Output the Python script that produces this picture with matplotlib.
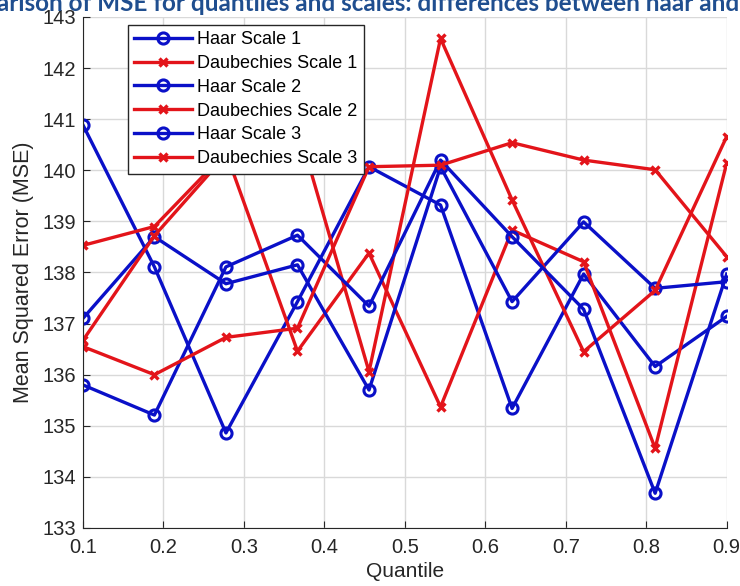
import numpy as np
import matplotlib
matplotlib.use('Agg')
import matplotlib.pyplot as plt

quantiles = np.linspace(0.1, 0.9, 10)

haar_1 = [140.89, 138.11, 134.86, 137.43, 140.07, 139.32, 135.34, 137.97, 136.16, 137.14]
daub_1 = [138.53, 138.90, 140.35, 136.46, 138.38, 135.37, 138.83, 138.21, 134.56, 140.14]
haar_2 = [137.10, 138.70, 137.78, 138.15, 135.70, 140.07, 137.43, 138.99, 137.69, 137.82]
daub_2 = [136.67, 138.72, 140.30, 140.88, 136.06, 142.58, 139.42, 136.45, 137.65, 140.66]
haar_3 = [135.80, 135.21, 138.11, 138.73, 137.34, 140.20, 138.70, 137.28, 133.68, 137.97]
daub_3 = [136.55, 136.00, 136.73, 136.91, 140.07, 140.10, 140.54, 140.20, 140.01, 138.31]

series = [
    ('Haar Scale 1', haar_1), ('Daubechies Scale 1', daub_1),
    ('Haar Scale 2', haar_2), ('Daubechies Scale 2', daub_2),
    ('Haar Scale 3', haar_3), ('Daubechies Scale 3', daub_3),
]

blue = '#0A10C8'
red = '#E3141A'

plt.rcParams['font.family'] = ['Liberation Sans', 'DejaVu Sans']

fig = plt.figure(figsize=(7.4, 5.86), dpi=100)
ax = fig.add_axes([0.112, 0.099, 0.870, 0.872])

for name, vals in series:
    if name.startswith('Haar'):
        ax.plot(quantiles, vals, color=blue, linewidth=2.4, marker='o', markersize=8,
                markerfacecolor='none', markeredgewidth=2.2, label=name)
    else:
        ax.plot(quantiles, vals, color=red, linewidth=2.4, marker='x', markersize=6,
                markeredgewidth=2.4, label=name)

ax.set_xlim(0.1, 0.9)
ax.set_ylim(133, 143)
ax.set_xticks(np.arange(0.1, 0.91, 0.1))
ax.set_xticklabels([f'{t:.1f}' for t in np.arange(0.1, 0.91, 0.1)])
ax.set_yticks(range(133, 144))
ax.grid(True, color='#d9d9d9', linewidth=1.0)
ax.set_axisbelow(True)
ax.spines['top'].set_visible(False)
ax.spines['right'].set_visible(False)
ax.spines['left'].set_color('#262626')
ax.spines['bottom'].set_color('#262626')
ax.tick_params(axis='both', direction='in', labelsize=14.5, colors='#262626', length=5)
ax.tick_params(axis='x', pad=7)
ax.tick_params(axis='y', pad=5)

ax.set_xlabel('Quantile', fontsize=15, color='#262626', labelpad=4)
ax.set_ylabel('Mean Squared Error (MSE)', fontsize=15.5, color='#262626', labelpad=6)

leg = ax.legend(loc='upper left', bbox_to_anchor=(0.07, 0.985), borderaxespad=0,
                fontsize=13, handlelength=3.2, frameon=True, fancybox=False,
                labelspacing=0.38, borderpad=0.35, handletextpad=0.3)
leg.get_frame().set_edgecolor('#262626')
leg.get_frame().set_linewidth(1.0)
leg.get_frame().set_alpha(1.0)

fig.text(-0.091, 1 - 11 / 586,
         'Comparison of MSE for quantiles and scales: differences between haar and daubechies',
         fontsize=17.5, fontweight='bold', color='#1F4E8F', family=['Lato', 'DejaVu Sans'],
         ha='left', va='baseline')

fig.savefig('out.png', dpi=100)
